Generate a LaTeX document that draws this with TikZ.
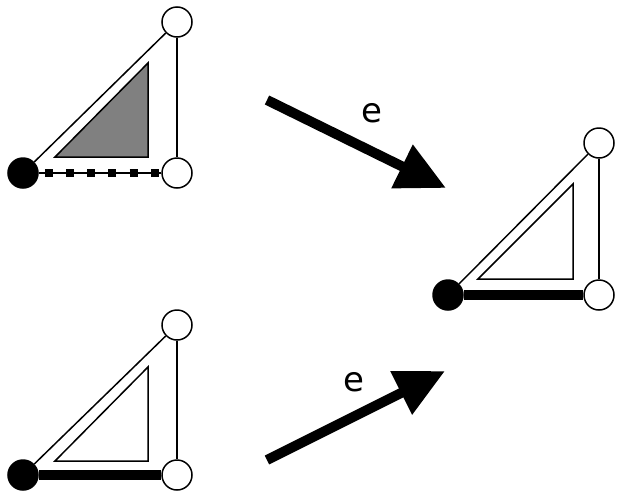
\documentclass[tikz,border=0pt]{standalone}
\usepackage{fontspec}
\setmainfont{DejaVu Sans}
\usetikzlibrary{arrows.meta}

\begin{document}
\begin{tikzpicture}[x=1pt,y=-1pt,
  vb/.style={draw, circle, fill=black, minimum size=30pt, inner sep=0pt, line width=1.5pt},
  vw/.style={vb, fill=white},
  ln/.style={line width=1.5pt},
  fat/.style={line width=10pt},
  face/.style={draw, line width=1.5pt, line join=miter},
  mv/.style={line width=10pt, -{Triangle[length=49pt,width=46pt]}},
  lbl/.style={font=\fontsize{34}{34}\selectfont, inner sep=0pt}]
  \useasboundingbox (0,0) rectangle (617,493);
  % upper left: shaded face, dotted edge
  \node[vb] (b1) at (23,173) {};
  \node[vw] (t1) at (177,22) {};
  \node[vw] (r1) at (177,173) {};
  \draw[face, fill=black!50] (148,63) -- (148,157) -- (55,157) -- cycle;
  \draw[ln] (b1) -- (t1); \draw[ln] (t1) -- (r1);
  \draw[ln] (b1) -- (r1);
  \draw[line width=8pt, dash pattern=on 8pt off 13.2pt, shorten <=6pt] (b1) -- (r1);
  % lower left
  \node[vb] (b2) at (23,475) {};
  \node[vw] (t2) at (177,325) {};
  \node[vw] (r2) at (177,475) {};
  \draw[face] (148,367) -- (148,461) -- (55,461) -- cycle;
  \draw[ln] (b2) -- (t2); \draw[ln] (t2) -- (r2);
  \draw[fat] (b2) -- (r2);
  % right: result
  \node[vb] (b3) at (448,295) {};
  \node[vw] (t3) at (599,143) {};
  \node[vw] (r3) at (599,295) {};
  \draw[face] (573,184) -- (573,279) -- (478,279) -- cycle;
  \draw[ln] (b3) -- (t3); \draw[ln] (t3) -- (r3);
  \draw[fat] (b3) -- (r3);
  % moves
  \coordinate (s1) at (267,100); \coordinate (e1) at (446,188);
  \coordinate (s2) at (267,460); \coordinate (e2) at (445,371);
  \draw[mv] (s1) -- (e1);
  \draw[mv] (s2) -- (e2);
  \node[lbl] (l1) at (372,113) {e};
  \node[lbl] (l2) at (354,382) {e};
\end{tikzpicture}
\end{document}
